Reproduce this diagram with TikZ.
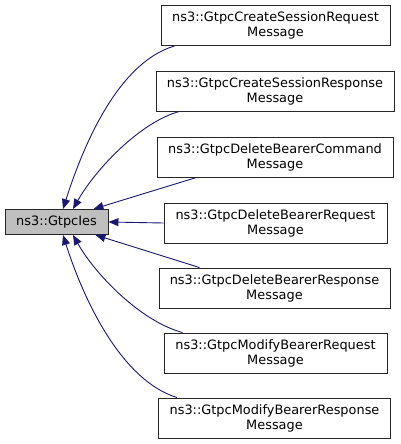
\documentclass[tikz,border=0pt]{standalone}
\usepackage{fontspec}
\setmainfont{DejaVu Sans}
\usetikzlibrary{arrows.meta}
\definecolor{edgeblue}{HTML}{191970}
\tikzstyle{cls} = [draw=black!85, line width=0.9pt, align=center, inner sep=0pt, minimum height=40pt, font=\fontsize{12.9}{15}\selectfont]
\tikzstyle{inh} = [draw=edgeblue, line width=0.9pt, -{Triangle[length=10pt,width=8pt]}, edgeblue]

\begin{document}
\begin{tikzpicture}[x=1pt,y=-1pt]
\useasboundingbox (0,0) rectangle (400,444);
\node[cls, fill=black!25, minimum width=103pt, minimum height=25pt] (ies) at (56.5,222) {ns3::GtpcIes};
\node[cls, minimum width=229pt] (csreq) at (275.5,25.5) {ns3::GtpcCreateSessionRequest\\Message};
\node[cls, minimum width=238pt] (csres) at (275,91) {ns3::GtpcCreateSessionResponse\\Message};
\node[cls, minimum width=236pt] (dbcmd) at (275,157) {ns3::GtpcDeleteBearerCommand\\Message};
\node[cls, minimum width=223pt] (dbreq) at (275.5,223) {ns3::GtpcDeleteBearerRequest\\Message};
\node[cls, minimum width=231pt] (dbres) at (274.5,288) {ns3::GtpcDeleteBearerResponse\\Message};
\node[cls, minimum width=223pt] (mbreq) at (275.5,353) {ns3::GtpcModifyBearerRequest\\Message};
\node[cls, minimum width=232pt] (mbres) at (274.5,418) {ns3::GtpcModifyBearerResponse\\Message};
% inheritance edges
\draw[inh] ([xshift=14pt]csreq.south west) .. controls (120,62) and (85,140) .. ([xshift=6.5pt]ies.north);
\draw[inh] ([xshift=24pt]csres.south west) .. controls (140,122) and (95,170) .. ([xshift=16.5pt]ies.north);
\draw[inh] ([xshift=40pt]dbcmd.south west) -- ([xshift=-15pt]ies.north east);
\draw[inh] (dbreq.west) -- (ies.east);
\draw[inh] ([xshift=41pt]dbres.north west) -- ([xshift=-13pt]ies.south east);
\draw[inh] ([xshift=19pt]mbreq.north west) .. controls (140,321) and (95,274) .. ([xshift=16.5pt]ies.south);
\draw[inh] ([xshift=19pt]mbres.north west) .. controls (123,381) and (85,304) .. ([xshift=6.5pt]ies.south);
\end{tikzpicture}
\end{document}
